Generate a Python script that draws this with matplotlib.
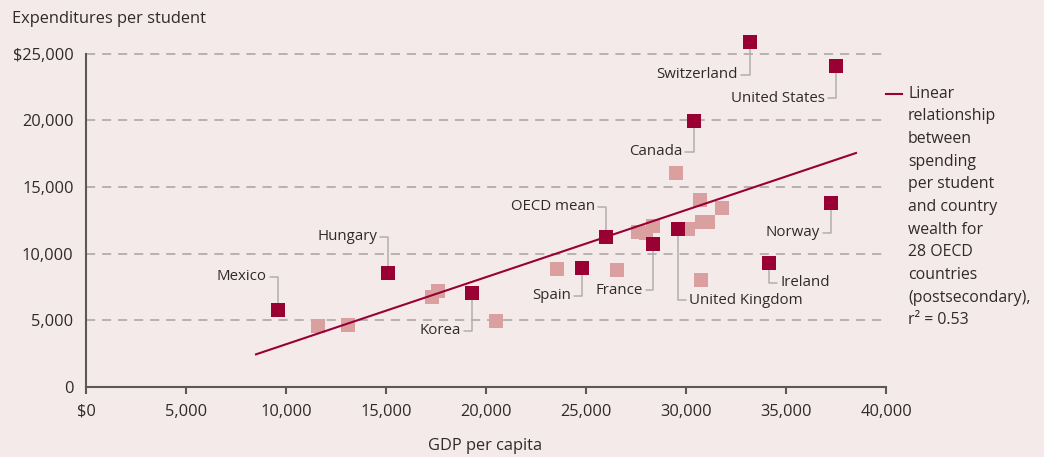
import matplotlib
matplotlib.use("Agg")
import matplotlib.pyplot as plt
from matplotlib.lines import Line2D

plt.rcParams['font.family'] = ['Open Sans', 'DejaVu Sans']

# labelled countries (dark squares)
named_countries = ["Mexico", "Hungary", "Korea", "Spain", "OECD mean", "France",
                   "United Kingdom", "Ireland", "Norway", "Canada", "Switzerland", "United States"]
named_gdp = [9600, 15100, 19300, 24800, 26000, 28350, 29600, 34150, 37250, 30400, 33200, 37500]
named_spend = [5775, 8550, 7050, 8950, 11275, 10725, 11850, 9325, 13825, 19975, 25875, 24075]

# other OECD countries (light squares)
other_gdp = [11600, 13100, 17300, 17600, 20500, 23550, 26550, 29500, 30750,
             27600, 28000, 28350, 30100, 30800, 31100, 30700, 31800]
other_spend = [4600, 4650, 6750, 7225, 4975, 8850, 8775, 16075, 8025,
               11625, 11550, 12075, 11850, 12375, 12375, 14025, 13425]

# fitted line end points
trend_gdp = [8500, 38500]
trend_spend = [2450, 17550]

x_ticks = [0, 5000, 10000, 15000, 20000, 25000, 30000, 35000, 40000]
x_tick_labels = ["$0", "5,000", "10,000", "15,000", "20,000", "25,000", "30,000", "35,000", "40,000"]
y_ticks = [0, 5000, 10000, 15000, 20000, 25000]
y_tick_labels = ["0", "5,000", "10,000", "15,000", "20,000", "$25,000"]

legend_lines = ["Linear", "relationship", "between", "spending", "per student", "and country",
                "wealth for", "28 OECD", "countries", "(postsecondary),", "r\u00b2 = 0.53"]

# label offsets in pixels from the marker (dx, dy, ha)
label_offsets = {
    "Mexico": (-11, 33, "right"),
    "Hungary": (-11, 36, "right"),
    "Korea": (-11, -38, "right"),
    "Spain": (-11, -28, "right"),
    "OECD mean": (-11, 30, "right"),
    "France": (-10, -46, "right"),
    "United Kingdom": (11, -71, "left"),
    "Ireland": (11, -20, "left"),
    "Norway": (-11, -30, "right"),
    "Canada": (-12, -31, "right"),
    "Switzerland": (-12, -33, "right"),
    "United States": (-11, -32, "right"),
}

bg = "#f5eaea"
dark = "#990033"
light = "#d9a09f"
text_col = "#2f2a2a"
axis_col = "#5e5757"
leader_col = "#b3adad"

W, H = 1044, 457
fig = plt.figure(figsize=(W / 100, H / 100), dpi=100, facecolor=bg)
ax = fig.add_axes([86 / W, 1 - 387 / H, 800 / W, (387 - 27) / H])
ax.set_facecolor(bg)
ax.set_xlim(0, 40000)
ax.set_ylim(0, 27000)

for yv in y_ticks[1:]:
    ax.axhline(yv, color="#a7a2a2", lw=1.1, ls=(0, (6, 4.5)), zorder=1)

ax.plot(other_gdp, other_spend, ls="none", marker="s", markersize=10, color=light,
        markeredgewidth=0, zorder=3, clip_on=False)
ax.plot(trend_gdp, trend_spend, color=dark, lw=1.5, zorder=4)
ax.plot(named_gdp, named_spend, ls="none", marker="s", markersize=10, color=dark,
        markeredgewidth=0, zorder=6, clip_on=False)

for name, gx, sy in zip(named_countries, named_gdp, named_spend):
    dx, dy, ha = label_offsets[name]
    ax.annotate(name, xy=(gx, sy), xytext=(dx, dy), textcoords="offset pixels",
                ha=ha, va="center", fontsize=10.8, color=text_col, zorder=5,
                arrowprops=dict(arrowstyle="-", color=leader_col, lw=1.1,
                                connectionstyle="angle,angleA=0,angleB=90,rad=0",
                                shrinkA=0, shrinkB=0))

for side in ["top", "right"]:
    ax.spines[side].set_visible(False)
ax.spines["left"].set_bounds(0, 25000)
for side in ["left", "bottom"]:
    ax.spines[side].set_color(axis_col)
    ax.spines[side].set_linewidth(1.5)

ax.set_xticks(x_ticks)
ax.set_xticklabels(x_tick_labels)
ax.set_yticks(y_ticks)
ax.set_yticklabels(y_tick_labels)
ax.tick_params(axis="x", length=5, width=1.5, color=axis_col, pad=7, labelsize=11.8, labelcolor=text_col)
ax.tick_params(axis="y", length=0, pad=9, labelsize=11.8, labelcolor=text_col)

fig.text(12 / W, 1 - 19 / H, "Expenditures per student", fontsize=11.8, color=text_col,
         ha="left", va="center")
fig.text(485 / W, 1 - 446 / H, "GDP per capita", fontsize=11.8, color=text_col,
         ha="center", va="center")

fig.add_artist(Line2D([886 / W, 902 / W], [1 - 93.5 / H, 1 - 93.5 / H],
                      transform=fig.transFigure, color=dark, lw=1.5))
for i, line in enumerate(legend_lines):
    fig.text(908 / W, 1 - (93.5 + i * 22.7) / H, line, fontsize=11.4, color=text_col,
             ha="left", va="center")

fig.savefig("out.png", dpi=100, facecolor=bg)
